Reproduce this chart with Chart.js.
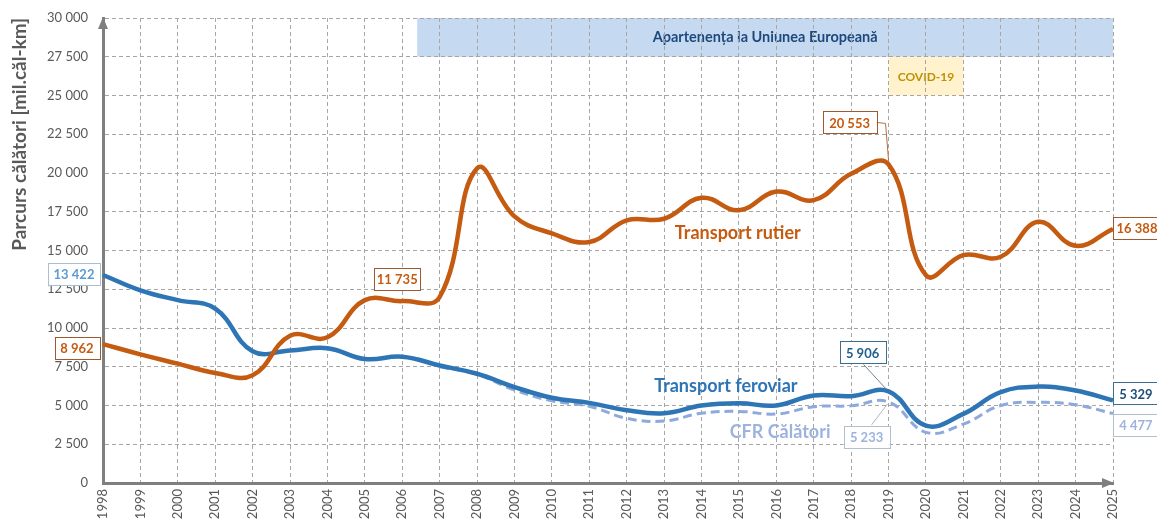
<!DOCTYPE html>
<html>
<head>
<meta charset="utf-8">
<script src="https://cdn.jsdelivr.net/npm/chart.js@4.4.0/dist/chart.umd.min.js"></script>
<style>
  body { margin: 0; background: #fff; }
  #wrap { width: 1157px; height: 525px; }
</style>
</head>
<body>
<div id="wrap"><canvas id="myChart"></canvas></div>
<script>
"use strict";

var years = ['1998', '1999', '2000', '2001', '2002', '2003', '2004', '2005', '2006', '2007',
    '2008', '2009', '2010', '2011', '2012', '2013', '2014', '2015', '2016', '2017',
    '2018', '2019', '2020', '2021', '2022', '2023', '2024', '2025'];

// Transport rutier
var road = [8962, 8300, 7700, 7100, 6950, 9500, 9400, 11800, 11735, 12000,
    20300, 17200, 16100, 15550, 16950, 17050, 18400, 17600, 18800, 18250,
    19950, 20553, 13400, 14700, 14600, 16850, 15300, 16388];

// Transport feroviar
var rail = [13422, 12430, 11800, 11250, 8500, 8550, 8700, 8000, 8150, 7580,
    7050, 6190, 5500, 5170, 4700, 4500, 5000, 5150, 5000, 5650,
    5600, 5906, 3700, 4460, 5860, 6220, 5970, 5329];

// CFR Calatori
var cfr = [null, null, null, null, null, null, null, null, null, 7500,
    7000, 6000, 5300, 4950, 4170, 4000, 4500, 4620, 4450, 4920,
    4980, 5233, 3270, 3800, 5000, 5200, 5050, 4477];

var yTicks = [0, 2500, 5000, 7500, 10000, 12500, 15000, 17500, 20000, 22500, 25000, 27500, 30000];

function fmt(v) {
    return String(v).replace(/\B(?=(\d{3})+(?!\d))/g, ' ');
}

var FONT = 'Lato, "Open Sans", sans-serif';

// bands behind the grid
var bands = {
    id: 'bands',
    beforeDraw: function(chart) {
        var ctx = chart.ctx, x = chart.scales.x, y = chart.scales.y;
        ctx.save();
        var x0 = x.getPixelForValue(8.4), x1 = x.getPixelForValue(27);
        var y0 = y.getPixelForValue(30000), y1 = y.getPixelForValue(27500);
        ctx.fillStyle = '#C5D9F1';
        ctx.fillRect(x0, y0, x1 - x0, y1 - y0);
        ctx.fillStyle = '#1F497D';
        ctx.font = 'bold 14.5px ' + FONT;
        ctx.textAlign = 'center';
        ctx.textBaseline = 'middle';
        ctx.fillText('Apartenența la Uniunea Europeană', x.getPixelForValue(17.7), (y0 + y1) / 2);

        var c0 = x.getPixelForValue(21), c1 = x.getPixelForValue(23);
        var cy0 = y.getPixelForValue(27500), cy1 = y.getPixelForValue(25000);
        ctx.fillStyle = '#FFF2CC';
        ctx.fillRect(c0, cy0, c1 - c0, cy1 - cy0);
        ctx.fillStyle = '#BF9000';
        ctx.font = 'bold 12px ' + FONT;
        ctx.fillText('COVID-19', (c0 + c1) / 2, (cy0 + cy1) / 2 + 1);
        ctx.restore();
    }
};

function box(ctx, text, cx, cy, w, textColor, borderColor) {
    ctx.font = 'bold 13px ' + FONT;
    var h = 22;
    ctx.fillStyle = '#ffffff';
    ctx.fillRect(cx - w / 2, cy - h / 2, w, h);
    ctx.strokeStyle = borderColor;
    ctx.lineWidth = 1;
    ctx.strokeRect(Math.round(cx - w / 2) + 0.5, Math.round(cy - h / 2) + 0.5, w, h);
    ctx.fillStyle = textColor;
    ctx.textAlign = 'center';
    ctx.textBaseline = 'middle';
    ctx.fillText(text, cx, cy + 1);
}

function leader(ctx, pts, color) {
    ctx.strokeStyle = color;
    ctx.lineWidth = 1;
    ctx.beginPath();
    ctx.moveTo(pts[0][0], pts[0][1]);
    for (var i = 1; i < pts.length; i++) ctx.lineTo(pts[i][0], pts[i][1]);
    ctx.stroke();
}

var labels = {
    id: 'labels',
    afterDraw: function(chart) {
        var ctx = chart.ctx, x = chart.scales.x, y = chart.scales.y;
        var last = years.length - 1, i19 = years.indexOf('2019'), i06 = years.indexOf('2006');
        function P(i, v) { return [x.getPixelForValue(i), y.getPixelForValue(v)]; }
        ctx.save();

        // axis arrows
        var a = chart.chartArea;
        ctx.fillStyle = '#7F7F7F';
        ctx.beginPath();
        ctx.moveTo(a.left, a.top - 1);
        ctx.lineTo(a.left - 5, a.top + 11);
        ctx.lineTo(a.left + 5, a.top + 11);
        ctx.closePath();
        ctx.fill();
        ctx.beginPath();
        ctx.moveTo(a.right + 1, a.bottom);
        ctx.lineTo(a.right - 11, a.bottom - 5);
        ctx.lineTo(a.right - 11, a.bottom + 5);
        ctx.closePath();
        ctx.fill();

        var p;
        p = P(0, rail[0]);
        box(ctx, fmt(rail[0]), p[0] - 29, p[1] - 1, 52, '#5B9BD5', '#A9BFD3');
        p = P(0, road[0]);
        box(ctx, fmt(road[0]), p[0] - 26, p[1] + 4, 45, '#C55A11', '#9C5A2E');
        p = P(i06, road[i06]);
        box(ctx, fmt(road[i06]), p[0] - 5, p[1] - 22, 46, '#C55A11', '#9C5A2E');

        p = P(i19, road[i19]);
        leader(ctx, [[p[0] - 12, p[1] - 42], [p[0] - 3, p[1] - 41], [p[0], p[1] - 4]], '#B07040');
        box(ctx, fmt(road[i19]), p[0] - 39, p[1] - 42, 54, '#C55A11', '#9C5A2E');

        p = P(i19, rail[i19]);
        leader(ctx, [[p[0] - 25, p[1] - 27], [p[0] - 2, p[1] - 2]], '#6F7F8F');
        box(ctx, fmt(rail[i19]), p[0] - 26, p[1] - 39, 46, '#1F5F8B', '#3A6F8F');

        p = P(i19, cfr[i19]);
        leader(ctx, [[p[0] - 17, p[1] + 23], [p[0] - 1, p[1] + 2]], '#B0B8C4');
        box(ctx, fmt(cfr[i19]), p[0] - 22, p[1] + 35, 46, '#9DB3DE', '#B4BFCC');

        p = P(last, road[last]);
        box(ctx, fmt(road[last]), p[0] + 24, p[1] - 1, 48, '#C55A11', '#9C5A2E');
        p = P(last, rail[last]);
        box(ctx, fmt(rail[last]), p[0] + 23, p[1] - 7, 46, '#1F4E79', '#3A6F8F');
        p = P(last, cfr[last]);
        box(ctx, fmt(cfr[last]), p[0] + 23, p[1] + 11, 46, '#9DB3DE', '#B4BFCC');

        // series names
        ctx.textAlign = 'center';
        ctx.textBaseline = 'middle';
        ctx.font = 'bold 18px ' + FONT;
        ctx.fillStyle = '#C55A11';
        ctx.fillText('Transport rutier', x.getPixelForValue(16.97), y.getPixelForValue(16100));
        ctx.fillStyle = '#2E75B6';
        ctx.fillText('Transport feroviar', x.getPixelForValue(16.65), y.getPixelForValue(6250));
        ctx.fillStyle = '#9DB3DE';
        ctx.fillText('CFR Călători', x.getPixelForValue(18.1), y.getPixelForValue(3250));
        ctx.restore();
    }
};

var ctx1 = document.getElementById('myChart').getContext('2d');
var myChart = new Chart(ctx1, {
    type: 'line',
    data: {
        labels: years,
        datasets: [{
            label: 'Transport rutier',
            data: road,
            borderColor: '#C55A11',
            borderWidth: 4.5,
            pointRadius: 0,
            tension: 0.42,
            fill: false
        }, {
            label: 'Transport feroviar',
            data: rail,
            borderColor: '#2E75B6',
            borderWidth: 4.5,
            pointRadius: 0,
            tension: 0.42,
            fill: false
        }, {
            label: 'CFR Călători',
            data: cfr,
            borderColor: '#8EA9DB',
            borderWidth: 3,
            borderDash: [9, 5],
            pointRadius: 0,
            tension: 0.42,
            fill: false
        }]
    },
    options: {
        responsive: true,
        maintainAspectRatio: false,
        animation: false,
        layout: {
            padding: { top: 18, right: 44, bottom: 0, left: 0 }
        },
        plugins: {
            legend: { display: false },
            tooltip: { enabled: false }
        },
        scales: {
            x: {
                type: 'category',
                offset: false,
                afterFit: function(s) { s.height = 42; },
                grid: { color: '#A6A6A6', lineWidth: 1, drawTicks: false },
                border: { color: '#7F7F7F', width: 3, dash: [4, 3] },
                ticks: {
                    autoSkip: false,
                    maxRotation: 90,
                    minRotation: 90,
                    padding: 6,
                    color: '#595959',
                    font: { family: FONT, size: 13 }
                }
            },
            y: {
                min: 0,
                max: 30000,
                afterFit: function(s) {
                    s.width = 103;
                    // tick padding would otherwise push the plot area down
                    s.paddingTop = 8;
                    s.paddingBottom = 8;
                },
                afterBuildTicks: function(s) {
                    s.ticks = yTicks.map(function(v) { return { value: v }; });
                },
                grid: { color: '#A6A6A6', lineWidth: 1, drawTicks: false },
                border: { color: '#7F7F7F', width: 3, dash: [4, 3] },
                ticks: {
                    padding: 15,
                    color: '#595959',
                    font: { family: FONT, size: 13 },
                    callback: function(v) { return fmt(v); }
                },
                title: {
                    display: true,
                    text: 'Parcurs călători [mil.căl-km]',
                    align: 'end',
                    color: '#595959',
                    font: { family: FONT, size: 19, weight: 'bold' },
                    padding: { top: 8, bottom: 0 }
                }
            }
        }
    },
    plugins: [bands, labels]
});
</script>
</body>
</html>
